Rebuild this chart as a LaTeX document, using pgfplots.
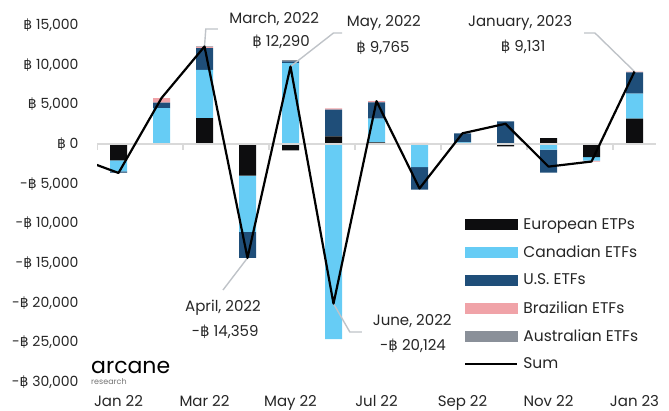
\documentclass[border=0pt]{standalone}
\usepackage{fontspec}
\setmainfont{Poppins}
\newfontfamily\dv{DejaVu Sans}
\protected\def\B{{\dv ฿}}
\usepackage{pgfplots}
\pgfplotsset{compat=1.18}
\definecolor{eur}{RGB}{13,13,15}
\definecolor{can}{RGB}{102,204,245}
\definecolor{usa}{RGB}{31,78,121}
\definecolor{bra}{RGB}{240,163,168}
\definecolor{aus}{RGB}{138,144,153}
\definecolor{lead}{RGB}{191,195,200}
\definecolor{zeroln}{RGB}{217,217,217}
\definecolor{txt}{RGB}{38,38,38}
\newcommand\fs{\fontsize{15}{18}\selectfont}
\newcommand\fy{\fontsize{14}{17}\selectfont}
\newcommand\fl{\fontsize{15.5}{18}\selectfont}
\pgfplotsset{
  base/.style={
    scale only axis, width=559pt, height=357pt,
    at={(97pt,29pt)}, anchor=south west,
    xmin=-0.5, xmax=12.5, ymin=-30000, ymax=15000,
    enlargelimits=false,
  },
  seg/.style={fill=#1, draw=none},
  swatch/.style={legend image code/.code={\fill[#1] (0pt,-5pt) rectangle (52pt,5pt);}},
  sumleg/.style={legend image code/.code={\draw[black, line width=2.2pt] (0pt,0pt) -- (52pt,0pt);}},
}
\begin{document}
\begin{tikzpicture}
\useasboundingbox (0pt,0pt) rectangle (669pt,411pt);
\clip (0pt,0pt) rectangle (669pt,411pt);
\begin{axis}[base,
  ybar stacked, bar width=17pt,
  axis line style={draw=none}, major tick length=0pt,
  scaled y ticks=false,
  ytick={-30000,-25000,-20000,-15000,-10000,-5000,0,5000,10000,15000},
  yticklabels={{-\B\ 30,000},{-\B\ 25,000},{-\B\ 20,000},{-\B\ 15,000},{-\B\ 10,000},{-\B\ 5,000},{\B\ 0},{\B\ 5,000},{\B\ 10,000},{\B\ 15,000}},
  xtick={0,2,4,6,8,10,12},
  xticklabels={Jan 22,Mar 22,May 22,Jul 22,Sep 22,Nov 22,Jan 23},
  tick label style={text=txt},
  yticklabel style={font=\fy, xshift=-15pt},
  xticklabel style={font=\fs, yshift=-10pt},
]
\draw[zeroln, line width=2pt] (axis cs:-0.5,0) -- (axis cs:12.5,0);
\draw[zeroln, line width=1.5pt] (axis cs:-0.5,0) -- (axis cs:-0.5,-800);
\draw[zeroln, line width=1.5pt] (axis cs:1.5,0) -- (axis cs:1.5,-800);
\draw[zeroln, line width=1.5pt] (axis cs:3.5,0) -- (axis cs:3.5,-800);
\draw[zeroln, line width=1.5pt] (axis cs:5.5,0) -- (axis cs:5.5,-800);
\draw[zeroln, line width=1.5pt] (axis cs:7.5,0) -- (axis cs:7.5,-800);
\draw[zeroln, line width=1.5pt] (axis cs:9.5,0) -- (axis cs:9.5,-800);
\draw[zeroln, line width=1.5pt] (axis cs:11.5,0) -- (axis cs:11.5,-800);
% positive and negative values are stacked separately (as in the source)
\addplot[seg=eur] coordinates {(0,-2080)(1,0)(2,3270)(3,-3990)(4,-800)(5,960)(6,200)(7,0)(8,0)(9,-300)(10,750)(11,-1640)(12,3190)};
\addplot[seg=can] coordinates {(0,-1380)(1,4530)(2,6070)(3,-7080)(4,10200)(5,-24604)(6,3000)(7,-2900)(8,200)(9,0)(10,-720)(11,-470)(12,3150)};
\addplot[seg=usa] coordinates {(0,-150)(1,700)(2,2730)(3,-3289)(4,200)(5,3360)(6,2050)(7,-2850)(8,1150)(9,2850)(10,-2880)(11,0)(12,2690)};
\addplot[seg=bra] coordinates {(0,0)(1,560)(2,170)(3,0)(4,0)(5,160)(6,150)(7,150)(8,0)(9,0)(10,0)(11,-100)(12,101)};
\addplot[seg=aus] coordinates {(0,-40)(1,0)(2,50)(3,0)(4,165)(5,0)(6,0)(7,0)(8,0)(9,0)(10,0)(11,0)(12,0)};
\end{axis}
\begin{axis}[base, hide axis, clip mode=individual,
  legend style={at={(0.6565,0.462)}, anchor=north west, draw=none, fill=none,
    inner sep=0pt, font=\fl, text=txt, row sep=13pt,
    nodes={inner sep=1pt},
    /tikz/every odd column/.append style={column sep=4pt}},
  legend cell align=left,
]
\addlegendimage{swatch=eur}
\addlegendentry{European ETPs}
\addlegendimage{swatch=can}
\addlegendentry{Canadian ETFs}
\addlegendimage{swatch=usa}
\addlegendentry{U.S. ETFs}
\addlegendimage{swatch=bra}
\addlegendentry{Brazilian ETFs}
\addlegendimage{swatch=aus}
\addlegendentry{Australian ETFs}
\addlegendimage{sumleg}
\addlegendentry{Sum}
% leader lines
\draw[lead, line width=1.4pt] (axis cs:2,12290) -- (axis cs:2.03,14496) -- (axis cs:2.31,14496);
\draw[lead, line width=1.4pt] (axis cs:4,9765) -- (axis cs:5.0,13992) -- (axis cs:5.2,13992);
\draw[lead, line width=1.4pt] (axis cs:12,9131) -- (axis cs:11.08,13992) -- (axis cs:10.83,13992);
\draw[lead, line width=1.4pt] (axis cs:3,-14359) -- (axis cs:2.43,-18404);
\draw[lead, line width=1.4pt] (axis cs:5,-20124) -- (axis cs:5.38,-23698) -- (axis cs:5.66,-23698);
\addplot[forget plot, black, line width=2.2pt, sharp plot, line join=round, mark=none]
  coordinates {(-1,-1650)(0,-3650)(1,5790)(2,12290)(3,-14359)(4,9765)(5,-20124)(6,5400)(7,-5600)(8,1350)(9,2550)(10,-2850)(11,-2210)(12,9131)};
% labels
\node[font=\fs, text=txt] at (axis cs:3.62,15757) {March, 2022};
\node[font=\fs, text=txt] at (axis cs:3.78,12858) {\B\ 12,290};
\node[font=\fs, text=txt] at (axis cs:6.17,15252) {May, 2022};
\node[font=\fs, text=txt] at (axis cs:6.15,12100) {\B\ 9,765};
\node[font=\fs, text=txt] at (axis cs:9.34,15252) {January, 2023};
\node[font=\fs, text=txt] at (axis cs:9.41,12227) {\B\ 9,131};
\node[font=\fs, text=txt] at (axis cs:2.43,-20673) {April, 2022};
\node[font=\fs, text=txt] at (axis cs:2.48,-23698) {-\B\ 14,359};
\node[font=\fs, text=txt] at (axis cs:6.83,-22312) {June, 2022};
\node[font=\fs, text=txt] at (axis cs:6.85,-25463) {-\B\ 20,124};
% logo
\node[font=\fontsize{22}{24}\selectfont, anchor=west, inner sep=0pt] at (axis cs:-0.64,-28110) {arcane};
\node[font=\fontsize{8}{9}\selectfont, text=black!55, anchor=west, inner sep=0pt] at (axis cs:-0.64,-30000) {research};
\end{axis}
\end{tikzpicture}
\end{document}
